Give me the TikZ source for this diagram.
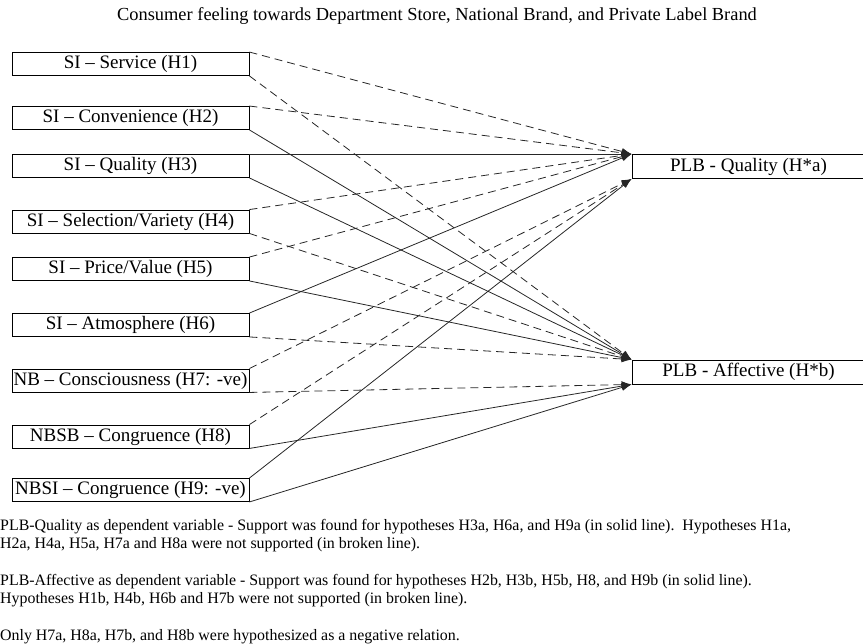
\documentclass[tikz,border=0pt]{standalone}
\usepackage{fontspec}
\setmainfont{Liberation Serif}
\usetikzlibrary{arrows.meta}

\begin{document}
\begin{tikzpicture}[x=1pt, y=-1pt, >={Latex[length=10pt,width=7pt]},
  factor/.style={draw, rectangle, line width=0.9pt, minimum width=237pt, minimum height=23pt, inner sep=0pt, font=\fontsize{19}{22}\selectfont},
  outcome/.style={draw, rectangle, line width=0.9pt, minimum width=233pt, minimum height=24pt, inner sep=0pt, font=\fontsize{19}{22}\selectfont},
  supported/.style={->, line width=0.8pt, black!85},
  notsup/.style={->, line width=0.8pt, black!85, dash pattern=on 8pt off 5pt},
  notes/.style={anchor=west, align=left, inner sep=0pt, font=\fontsize{15.9}{18}\selectfont}]
\useasboundingbox (0,0) rectangle (863,644);

% Title
\node[font=\fontsize{18.4}{21}\selectfont] (title) at (437,16) {Consumer feeling towards Department Store, National Brand, and Private Label Brand};

% Store image and national brand factors
\node[factor] (service) at (130.5,64) {SI – Service (H1)};
\node[factor] (conv) at (130.5,118) {SI – Convenience (H2)};
\node[factor] (qual) at (130.5,166) {SI – Quality (H3)};
\node[factor] (select) at (130.5,221.5) {SI – Selection/Variety (H4)};
\node[factor] (price) at (130.5,269) {SI – Price/Value (H5)};
\node[factor] (atmos) at (130.5,325) {SI – Atmosphere (H6)};
\node[factor] (nbc) at (130.5,380.5) {NB – Consciousness (H7: -ve)};
\node[factor] (nbsb) at (130.5,436.5) {NBSB – Congruence (H8)};
\node[factor] (nbsi) at (130.5,490) {NBSI – Congruence (H9: -ve)};

% Dependent variables
\node[outcome] (plbq) at (748.5,166.5) {PLB - Quality (H*a)};
\node[outcome] (plba) at (748.5,372) {PLB - Affective (H*b)};

% Arrows
\draw[notsup] (service.north east) -- (plbq.north west);
\draw[notsup] (service.south east) -- (plba.north west);
\draw[notsup] (conv.north east) -- (plbq.north west);
\draw[supported] (conv.south east) -- (plba.north west);
\draw[supported] (qual.north east) -- (plbq.north west);
\draw[supported] (qual.south east) -- (plba.north west);
\draw[notsup] (select.north east) -- (plbq.north west);
\draw[notsup] (select.south east) -- (plba.north west);
\draw[notsup] (price.north east) -- (plbq.north west);
\draw[supported] (price.south east) -- (plba.north west);
\draw[supported] (atmos.north east) -- (plbq.north west);
\draw[notsup] (atmos.south east) -- (plba.north west);
\draw[notsup] (nbc.north east) -- (plbq.south west);
\draw[notsup] (nbc.south east) -- (plba.south west);
\draw[notsup] (nbsb.north east) -- (plbq.south west);
\draw[supported] (nbsb.south east) -- (plba.south west);
\draw[supported] (nbsi.north east) -- (plbq.south west);
\draw[supported] (nbsi.south east) -- (plba.south west);

% Notes
\node[notes] (note1) at (0,536) {PLB-Quality as dependent variable - Support was found for hypotheses H3a, H6a, and H9a (in solid line).\ \ Hypotheses H1a,\\H2a, H4a, H5a, H7a and H8a were not supported (in broken line).};
\node[notes] (note2) at (0,591) {PLB-Affective as dependent variable - Support was found for hypotheses H2b, H3b, H5b, H8, and H9b (in solid line).\\Hypotheses H1b, H4b, H6b and H7b were not supported (in broken line).};
\node[notes] (note3) at (0,637) {Only H7a, H8a, H7b, and H8b were hypothesized as a negative relation.};
\end{tikzpicture}
\end{document}
